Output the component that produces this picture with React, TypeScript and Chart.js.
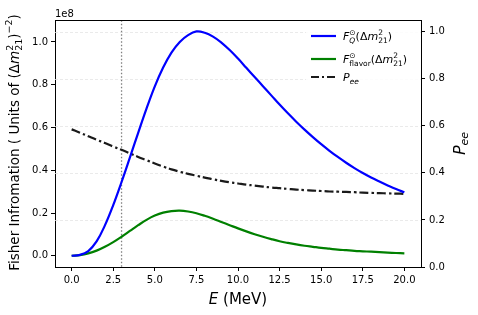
import React, { useEffect, useRef } from 'react';
import { Chart, registerables } from 'chart.js';

Chart.register(...registerables);

// Energy grid (MeV)
const energy = [0, 0.5, 1, 1.5, 2, 2.5, 3, 3.5, 4, 4.5, 5, 5.5, 6, 6.5, 7, 7.5, 8, 8.5, 9, 9.5, 10, 10.5, 11, 11.5, 12, 12.5, 13, 13.5, 14, 14.5, 15, 15.5, 16, 16.5, 17, 17.5, 18, 18.5, 19, 19.5, 20];
// Fisher information, in units of 1e8
const fisherQ = [0, 0.004, 0.022, 0.067, 0.142, 0.237, 0.345, 0.459, 0.575, 0.688, 0.792, 0.88, 0.95, 1.0, 1.032, 1.049, 1.043, 1.025, 0.997, 0.962, 0.922, 0.879, 0.836, 0.793, 0.75, 0.707, 0.666, 0.627, 0.59, 0.555, 0.522, 0.491, 0.462, 0.435, 0.41, 0.387, 0.366, 0.347, 0.329, 0.312, 0.297];
const fisherFlavor = [0, 0.003, 0.011, 0.024, 0.042, 0.064, 0.089, 0.116, 0.143, 0.168, 0.188, 0.202, 0.209, 0.211, 0.207, 0.199, 0.187, 0.173, 0.158, 0.143, 0.128, 0.114, 0.101, 0.089, 0.078, 0.068, 0.06, 0.053, 0.047, 0.042, 0.037, 0.033, 0.029, 0.026, 0.023, 0.021, 0.019, 0.017, 0.015, 0.013, 0.0115];
// Survival probability
const pee = [0.585, 0.571, 0.556, 0.541, 0.527, 0.512, 0.498, 0.483, 0.468, 0.454, 0.44, 0.427, 0.415, 0.405, 0.396, 0.388, 0.38, 0.373, 0.366, 0.36, 0.355, 0.35, 0.346, 0.342, 0.338, 0.335, 0.332, 0.329, 0.327, 0.325, 0.323, 0.321, 0.32, 0.319, 0.318, 0.316, 0.315, 0.314, 0.313, 0.312, 0.311];
const thresholdE = 3.0;

const xTicks = [0, 2.5, 5, 7.5, 10, 12.5, 15, 17.5, 20];
const yTicks = [0, 0.2, 0.4, 0.6, 0.8, 1.0];
const y1Ticks = [0, 0.2, 0.4, 0.6, 0.8, 1.0];

const FONT = '"DejaVu Sans", sans-serif';

type Part = { t: string; it?: boolean; size: number; dy?: number };
type Item = Part | { stack: Part[] };

function fontOf(p: Part) {
  return `${p.it ? 'italic ' : ''}${p.size}px ${FONT}`;
}

function measureRich(ctx: CanvasRenderingContext2D, items: Item[]) {
  let w = 0;
  for (const it of items) {
    if ('stack' in it) {
      let m = 0;
      for (const p of it.stack) {
        ctx.font = fontOf(p);
        m = Math.max(m, ctx.measureText(p.t).width);
      }
      w += m;
    } else {
      ctx.font = fontOf(it);
      w += ctx.measureText(it.t).width;
    }
  }
  return w;
}

function drawRich(ctx: CanvasRenderingContext2D, items: Item[], x: number, y: number, align: 'left' | 'center') {
  const total = measureRich(ctx, items);
  let cx = align === 'center' ? x - total / 2 : x;
  ctx.textAlign = 'left';
  ctx.textBaseline = 'alphabetic';
  for (const it of items) {
    if ('stack' in it) {
      let m = 0;
      for (const p of it.stack) {
        ctx.font = fontOf(p);
        ctx.fillText(p.t, cx, y + (p.dy || 0));
        m = Math.max(m, ctx.measureText(p.t).width);
      }
      cx += m;
    } else {
      ctx.font = fontOf(it);
      ctx.fillText(it.t, cx, y + (it.dy || 0));
      cx += ctx.measureText(it.t).width;
    }
  }
}

const decorPlugin = {
  id: 'decor',
  beforeDatasetsDraw(chart: any) {
    const ctx: CanvasRenderingContext2D = chart.ctx;
    const area = chart.chartArea;
    const y1 = chart.scales.y1;
    ctx.save();
    ctx.strokeStyle = '#e4e4e4';
    ctx.lineWidth = 0.8;
    ctx.setLineDash([3, 2]);
    for (const v of y1Ticks) {
      if (v === 0) continue;
      const py = Math.round(y1.getPixelForValue(v)) + 0.5;
      ctx.beginPath();
      ctx.moveTo(area.left, py);
      ctx.lineTo(area.right, py);
      ctx.stroke();
    }
    ctx.restore();
  },
  afterDatasetsDraw(chart: any) {
    const ctx: CanvasRenderingContext2D = chart.ctx;
    const area = chart.chartArea;
    ctx.save();
    // top frame
    ctx.strokeStyle = '#000';
    ctx.lineWidth = 1;
    ctx.setLineDash([]);
    ctx.beginPath();
    ctx.moveTo(area.left, Math.round(area.top) + 0.5);
    ctx.lineTo(area.right, Math.round(area.top) + 0.5);
    ctx.stroke();

    // legend
    ctx.fillStyle = 'rgba(255,255,255,0.85)';
    ctx.fillRect(306, 24, 112, 64);
    const rows = [
      { y: 36, color: '#0000ff', dash: [] as number[] },
      { y: 59, color: '#008000', dash: [] as number[] },
      { y: 77, color: '#1a1a1a', dash: [8, 3, 2, 3] },
    ];
    for (const r of rows) {
      ctx.strokeStyle = r.color;
      ctx.lineWidth = 2.2;
      ctx.setLineDash(r.dash);
      ctx.beginPath();
      ctx.moveTo(311, r.y);
      ctx.lineTo(336, r.y);
      ctx.stroke();
    }
    ctx.setLineDash([]);
    ctx.fillStyle = '#000';
    const L = 11;
    const S = 7.5;
    const dm: Item[] = [
      { t: '(Δ', size: L },
      { t: 'm', it: true, size: L },
      { stack: [{ t: '2', size: S, dy: -5 }, { t: '21', size: S, dy: 3 }] },
      { t: ')', size: L },
    ];
    drawRich(ctx, [
      { t: 'F', it: true, size: L },
      { stack: [{ t: '⊙', size: S, dy: -5 }, { t: 'Q', it: true, size: S, dy: 3 }] },
      ...dm,
    ], 343, 40, 'left');
    drawRich(ctx, [
      { t: 'F', it: true, size: L },
      { stack: [{ t: '⊙', size: S, dy: -5 }, { t: 'flavor', size: S, dy: 3 }] },
      ...dm,
    ], 343, 63, 'left');
    drawRich(ctx, [
      { t: 'P', it: true, size: L },
      { t: 'ee', it: true, size: S, dy: 3 },
    ], 343, 81, 'left');

    // offset text
    ctx.font = `10px ${FONT}`;
    ctx.textAlign = 'left';
    ctx.textBaseline = 'alphabetic';
    ctx.fillText('1e8', 55, 17);

    // x title
    drawRich(ctx, [
      { t: 'E', it: true, size: 15 },
      { t: ' (MeV)', size: 15 },
    ], (area.left + area.right) / 2, 304, 'center');

    // left title
    ctx.save();
    ctx.translate(19, (area.top + area.bottom) / 2 - 1);
    ctx.rotate(-Math.PI / 2);
    const T = 13.5;
    const TS = 9.5;
    drawRich(ctx, [
      { t: 'Fisher Infromation ( Units of (Δ', size: T },
      { t: 'm', it: true, size: T },
      { stack: [{ t: '2', size: TS, dy: -6 }, { t: '21', size: TS, dy: 3 }] },
      { t: ')', size: T },
      { t: '−2', size: TS, dy: -7 },
      { t: ')', size: T },
    ], 0, 0, 'center');
    ctx.restore();

    // right title
    ctx.save();
    ctx.translate(465, (area.top + area.bottom) / 2);
    ctx.rotate(-Math.PI / 2);
    drawRich(ctx, [
      { t: 'P', it: true, size: 16 },
      { t: 'ee', it: true, size: 11, dy: 3 },
    ], 0, 0, 'center');
    ctx.restore();

    ctx.restore();
  },
};

function setTicks(values: number[]) {
  return (scale: any) => {
    scale.ticks = values.map((v) => ({ value: v }));
  };
}

const tickFont = { family: FONT, size: 10 };

export default function App() {
  const ref = useRef<HTMLCanvasElement | null>(null);
  useEffect(() => {
    if (!ref.current) return;
    const chart = new Chart(ref.current, {
      type: 'line',
      data: {
        datasets: [
          {
            label: 'FQ',
            data: energy.map((e, i) => ({ x: e, y: fisherQ[i] })),
            borderColor: '#0000ff',
            borderWidth: 2.2,
            pointRadius: 0,
            tension: 0.4,
            yAxisID: 'y',
          },
          {
            label: 'Fflavor',
            data: energy.map((e, i) => ({ x: e, y: fisherFlavor[i] })),
            borderColor: '#008000',
            borderWidth: 2.2,
            pointRadius: 0,
            tension: 0.4,
            yAxisID: 'y',
          },
          {
            label: 'Pee',
            data: energy.map((e, i) => ({ x: e, y: pee[i] })),
            borderColor: '#1a1a1a',
            borderWidth: 2.2,
            borderDash: [9, 3, 2.5, 3],
            pointRadius: 0,
            tension: 0.4,
            yAxisID: 'y1',
          },
          {
            label: 'threshold',
            data: [{ x: thresholdE, y: -1 }, { x: thresholdE, y: 2 }],
            borderColor: '#808080',
            borderWidth: 1.3,
            borderDash: [1.5, 2],
            pointRadius: 0,
            yAxisID: 'y',
          },
        ],
      } as any,
      options: {
        animation: false,
        responsive: false,
        devicePixelRatio: 1,
        layout: { padding: { top: 20, left: 0, right: 0, bottom: 0 } },
        plugins: { legend: { display: false }, tooltip: { enabled: false }, title: { display: false } },
        scales: {
          x: {
            type: 'linear',
            min: -1,
            max: 21,
            afterBuildTicks: setTicks(xTicks),
            afterFit: (s: any) => { s.height = 48; },
            ticks: { font: tickFont, color: '#000', padding: 3, maxRotation: 0, autoSkip: false, callback: (v: any) => Number(v).toFixed(1) },
            grid: { drawOnChartArea: false, drawTicks: true, tickLength: 4, tickColor: '#000' },
            border: { display: true, color: '#000', width: 1 },
          },
          y: {
            type: 'linear',
            position: 'left',
            min: -0.0525,
            max: 1.1025,
            afterBuildTicks: setTicks(yTicks),
            afterFit: (s: any) => { s.width = 55; },
            ticks: { font: tickFont, color: '#000', padding: 3, autoSkip: false, callback: (v: any) => Number(v).toFixed(1) },
            grid: { drawOnChartArea: false, drawTicks: true, tickLength: 4, tickColor: '#000' },
            border: { display: true, color: '#000', width: 1 },
          },
          y1: {
            type: 'linear',
            position: 'right',
            min: 0,
            max: 1.05,
            afterBuildTicks: setTicks(y1Ticks),
            afterFit: (s: any) => { s.width = 57; },
            ticks: { font: tickFont, color: '#000', padding: 4, autoSkip: false, callback: (v: any) => Number(v).toFixed(1) },
            grid: { drawOnChartArea: false, drawTicks: true, tickLength: 4, tickColor: '#000' },
            border: { display: true, color: '#000', width: 1 },
          },
        },
      } as any,
      plugins: [decorPlugin],
    });
    return () => chart.destroy();
  }, []);
  return (
    <div style={{ position: 'fixed', left: 0, top: 0, width: 478, height: 315, background: '#fff' }}>
      <canvas ref={ref} width={478} height={315} style={{ display: 'block', width: 478, height: 315 }} />
    </div>
  );
}
